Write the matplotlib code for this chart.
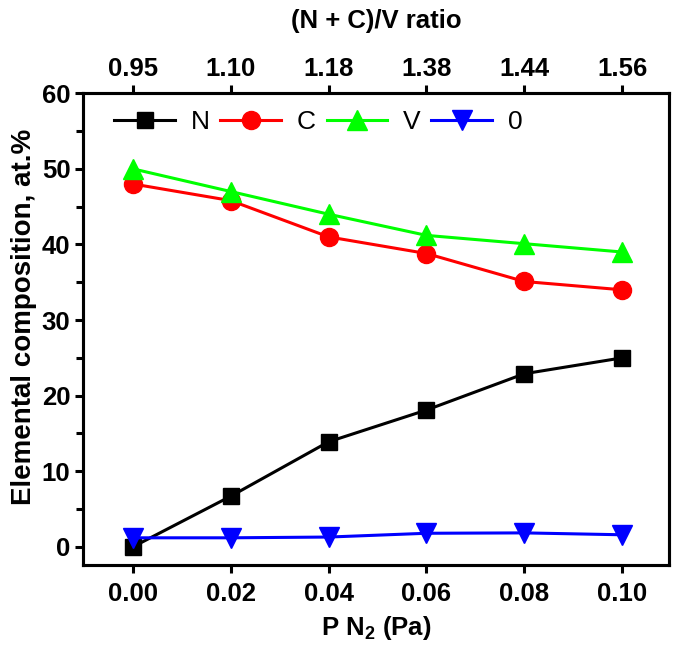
import numpy as np
import matplotlib
matplotlib.use("Agg")
import matplotlib.pyplot as plt

plt.rcParams['font.family'] = ['Liberation Sans', 'DejaVu Sans']
plt.rcParams['mathtext.fontset'] = 'custom'
plt.rcParams['mathtext.rm'] = 'Liberation Sans'
plt.rcParams['mathtext.bf'] = 'Liberation Sans:bold'

# 데이터
p_n2 = [0.00, 0.02, 0.04, 0.06, 0.08, 0.10]
ratio_labels = ["0.95", "1.10", "1.18", "1.38", "1.44", "1.56"]
n_vals = [0.0, 6.7, 13.9, 18.1, 22.9, 25.0]
c_vals = [48.0, 45.8, 41.0, 38.8, 35.1, 34.0]
v_vals = [50.0, 47.0, 44.0, 41.2, 40.1, 39.0]
o_vals = [1.2, 1.2, 1.3, 1.8, 1.85, 1.6]

fig = plt.figure(figsize=(6.84, 6.52), dpi=100)
ax = fig.add_axes([0.1213, 0.1334, 0.857, 0.7236])

ms = 12
lw = 2.2
ax.plot(p_n2, n_vals, color='black', marker='s', ms=ms, lw=lw, label='N')
ax.plot(p_n2, c_vals, color='red', marker='o', ms=ms + 1, lw=lw, label='C')
ax.plot(p_n2, v_vals, color='#00ff00', marker='^', ms=ms + 2, lw=lw, label='V')
ax.plot(p_n2, o_vals, color='blue', marker='v', ms=ms + 2, lw=lw, label='0')

ax.set_xlim(-0.0102, 0.1096)
ax.set_ylim(-2.4, 60)
ax.set_xticks(p_n2)
ax.set_xticklabels([f"{x:.2f}" for x in p_n2])
ax.set_yticks([0, 10, 20, 30, 40, 50, 60])
ax.set_yticks(np.arange(5, 60, 10), minor=True)

for s in ax.spines.values():
    s.set_linewidth(2.2)

fs = 18.5
ax.tick_params(axis='x', which='major', direction='out', length=6, width=2.2,
               labelsize=fs, pad=6)
ax.tick_params(axis='y', which='major', direction='out', length=6, width=2.2,
               labelsize=fs, pad=3)
ax.tick_params(axis='y', which='minor', direction='out', length=5, width=2.2)
for lab in ax.get_xticklabels() + ax.get_yticklabels():
    lab.set_fontweight('bold')

ax.set_xlabel("P N$_\\mathbf{2}$ (Pa)", fontsize=fs, fontweight='bold', labelpad=6)
ax.set_ylabel("Elemental composition, at.%", fontsize=20, fontweight='bold')
ax.yaxis.set_label_coords(-0.078, 0.527)

# 위쪽 축: (N + C)/V ratio
ax2 = ax.twiny()
ax2.set_xlim(ax.get_xlim())
ax2.set_xticks(p_n2)
ax2.set_xticklabels(ratio_labels)
ax2.tick_params(axis='x', direction='out', length=6, width=2.2, labelsize=fs, pad=3)
for lab in ax2.get_xticklabels():
    lab.set_fontweight('bold')
ax2.set_xlabel("(N + C)/V ratio", fontsize=fs, fontweight='bold', labelpad=21)
for s in ax2.spines.values():
    s.set_linewidth(2.2)

ax.legend(loc='upper left', ncol=4, frameon=False, fontsize=19, handlelength=2.3,
          handletextpad=0.6, columnspacing=0.4, borderaxespad=0.3,
          bbox_to_anchor=(0.022, 1.003))

fig.savefig("out.png", dpi=100)
